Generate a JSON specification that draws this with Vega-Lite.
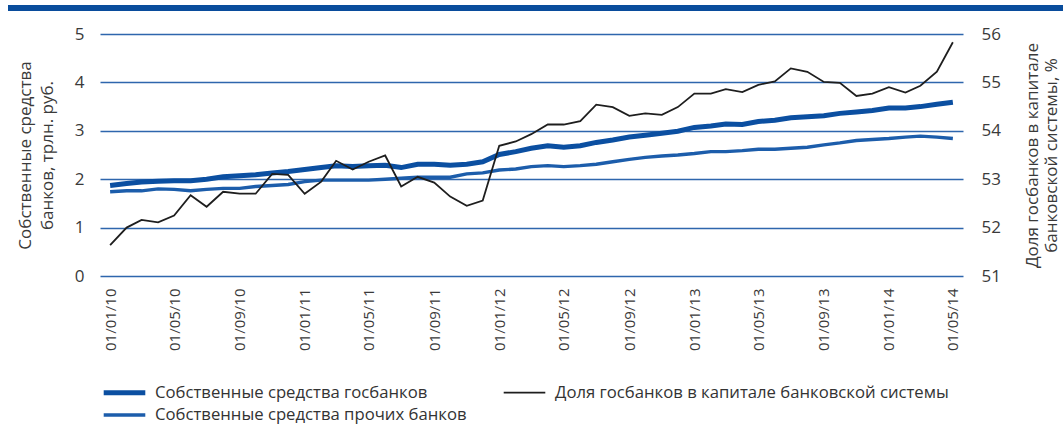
{
  "$schema": "https://vega.github.io/schema/vega-lite/v6.json",
  "autosize": {"type": "none"},
  "width": 863,
  "height": 242,
  "padding": {"left": 100, "top": 34, "right": 100, "bottom": 151},
  "background": "white",
  "config": {
    "view": {"stroke": null},
    "font": "Open Sans",
    "axis": {"labelFont": "Open Sans", "titleFont": "Open Sans", "labelColor": "#3a3a3a", "titleColor": "#3a3a3a", "titleFontWeight": "normal", "domain": false, "ticks": false},
    "legend": {"orient": "none", "legendX": 14, "legendY": 348, "columns": 2, "title": null, "symbolType": "M-2.6,0H2.6", "symbolSize": 256, "labelFont": "Open Sans", "labelFontSize": 16.7, "labelColor": "#333333", "labelOffset": 20, "columnPadding": 33, "rowPadding": 2, "labelLimit": 500}
  },
  "data": {"values": [
    {"d": "2010-01-01", "gos": 1.87, "oth": 1.74, "share": 51.64},
    {"d": "2010-02-01", "gos": 1.91, "oth": 1.76, "share": 52.00},
    {"d": "2010-03-01", "gos": 1.94, "oth": 1.76, "share": 52.16},
    {"d": "2010-04-01", "gos": 1.96, "oth": 1.80, "share": 52.11},
    {"d": "2010-05-01", "gos": 1.97, "oth": 1.79, "share": 52.25},
    {"d": "2010-06-01", "gos": 1.97, "oth": 1.76, "share": 52.67},
    {"d": "2010-07-01", "gos": 2.00, "oth": 1.79, "share": 52.43},
    {"d": "2010-08-01", "gos": 2.05, "oth": 1.81, "share": 52.74},
    {"d": "2010-09-01", "gos": 2.07, "oth": 1.81, "share": 52.70},
    {"d": "2010-10-01", "gos": 2.09, "oth": 1.85, "share": 52.70},
    {"d": "2010-11-01", "gos": 2.13, "oth": 1.87, "share": 53.11},
    {"d": "2010-12-01", "gos": 2.16, "oth": 1.89, "share": 53.09},
    {"d": "2011-01-01", "gos": 2.20, "oth": 1.95, "share": 52.70},
    {"d": "2011-02-01", "gos": 2.24, "oth": 1.98, "share": 52.95},
    {"d": "2011-03-01", "gos": 2.28, "oth": 1.98, "share": 53.38},
    {"d": "2011-04-01", "gos": 2.26, "oth": 1.98, "share": 53.20},
    {"d": "2011-05-01", "gos": 2.28, "oth": 1.98, "share": 53.36},
    {"d": "2011-06-01", "gos": 2.29, "oth": 2.00, "share": 53.49},
    {"d": "2011-07-01", "gos": 2.24, "oth": 2.02, "share": 52.85},
    {"d": "2011-08-01", "gos": 2.31, "oth": 2.04, "share": 53.05},
    {"d": "2011-09-01", "gos": 2.31, "oth": 2.04, "share": 52.93},
    {"d": "2011-10-01", "gos": 2.29, "oth": 2.04, "share": 52.64},
    {"d": "2011-11-01", "gos": 2.31, "oth": 2.11, "share": 52.45},
    {"d": "2011-12-01", "gos": 2.36, "oth": 2.13, "share": 52.56},
    {"d": "2012-01-01", "gos": 2.51, "oth": 2.19, "share": 53.69},
    {"d": "2012-02-01", "gos": 2.57, "oth": 2.21, "share": 53.78},
    {"d": "2012-03-01", "gos": 2.64, "oth": 2.26, "share": 53.93},
    {"d": "2012-04-01", "gos": 2.69, "oth": 2.28, "share": 54.13},
    {"d": "2012-05-01", "gos": 2.66, "oth": 2.26, "share": 54.13},
    {"d": "2012-06-01", "gos": 2.69, "oth": 2.28, "share": 54.20},
    {"d": "2012-07-01", "gos": 2.76, "oth": 2.31, "share": 54.54},
    {"d": "2012-08-01", "gos": 2.81, "oth": 2.36, "share": 54.49},
    {"d": "2012-09-01", "gos": 2.87, "oth": 2.41, "share": 54.31},
    {"d": "2012-10-01", "gos": 2.91, "oth": 2.45, "share": 54.36},
    {"d": "2012-11-01", "gos": 2.95, "oth": 2.48, "share": 54.33},
    {"d": "2012-12-01", "gos": 2.99, "oth": 2.50, "share": 54.49},
    {"d": "2013-01-01", "gos": 3.07, "oth": 2.53, "share": 54.77},
    {"d": "2013-02-01", "gos": 3.10, "oth": 2.57, "share": 54.77},
    {"d": "2013-03-01", "gos": 3.14, "oth": 2.57, "share": 54.86},
    {"d": "2013-04-01", "gos": 3.13, "oth": 2.59, "share": 54.80},
    {"d": "2013-05-01", "gos": 3.19, "oth": 2.62, "share": 54.95},
    {"d": "2013-06-01", "gos": 3.22, "oth": 2.62, "share": 55.02},
    {"d": "2013-07-01", "gos": 3.27, "oth": 2.64, "share": 55.29},
    {"d": "2013-08-01", "gos": 3.29, "oth": 2.66, "share": 55.22},
    {"d": "2013-09-01", "gos": 3.31, "oth": 2.71, "share": 55.01},
    {"d": "2013-10-01", "gos": 3.36, "oth": 2.75, "share": 54.99},
    {"d": "2013-11-01", "gos": 3.39, "oth": 2.80, "share": 54.72},
    {"d": "2013-12-01", "gos": 3.42, "oth": 2.82, "share": 54.77},
    {"d": "2014-01-01", "gos": 3.47, "oth": 2.84, "share": 54.90},
    {"d": "2014-02-01", "gos": 3.47, "oth": 2.87, "share": 54.79},
    {"d": "2014-03-01", "gos": 3.50, "oth": 2.89, "share": 54.93},
    {"d": "2014-04-01", "gos": 3.55, "oth": 2.87, "share": 55.22},
    {"d": "2014-05-01", "gos": 3.59, "oth": 2.84, "share": 55.83}
  ]},
  "encoding": {
    "x": {
      "field": "d", "type": "temporal",
      "scale": {"type": "utc", "domain": [{"year": 2009, "month": 12, "date": 13, "utc": true}, {"year": 2014, "month": 5, "date": 20, "utc": true}]},
      "axis": {"title": null, "labelExpr": "utcFormat(datum.value, '%d/%m/%y')", "tickCount": {"interval": "month", "step": 4}, "labelAngle": -90, "labelFontSize": 15, "labelPadding": 12, "grid": false, "labelFlush": false, "labelOverlap": false}
    }
  },
  "layer": [
    {
      "encoding": {
        "y": {"type": "quantitative", "scale": {"domain": [0, 5]},
          "axis": {"title": ["Собственные средства", "банков, трлн. руб."], "titleFontSize": 17, "titleLineHeight": 22, "titlePadding": 18, "labelFontSize": 17, "labelPadding": 16, "values": [0, 1, 2, 3, 4, 5], "grid": true, "gridColor": "#2e66ad", "gridWidth": 1.5, "gridOpacity": 1}}
      },
      "layer": [
        {"mark": {"type": "rule", "clip": false, "color": "#0a4d9c", "strokeWidth": 5},
         "encoding": {"y": {"datum": 5.53}, "x": {"datum": {"year": 2009, "month": 6, "date": 24, "utc": true}}, "x2": {"datum": {"year": 2014, "month": 11, "date": 25, "utc": true}}}},
        {"mark": {"type": "line"}, "encoding": {"y": {"field": "oth"},
          "color": {"datum": "Собственные средства прочих банков", "scale": {"domain": ["Собственные средства госбанков", "Собственные средства прочих банков", "Доля госбанков в капитале банковской системы"], "range": ["#0b4fa1", "#1c5dab", "#1e1e1e"]}},
          "strokeWidth": {"datum": "Собственные средства прочих банков", "scale": {"domain": ["Собственные средства госбанков", "Собственные средства прочих банков", "Доля госбанков в капитале банковской системы"], "range": [5, 1.8, 1.4]}}}},
        {"mark": {"type": "line"}, "encoding": {"y": {"field": "gos"}, "color": {"datum": "Собственные средства госбанков"}, "strokeWidth": {"datum": "Собственные средства госбанков"}}}
      ]
    },
    {
      "mark": {"type": "line"},
      "encoding": {
        "y": {"field": "share", "type": "quantitative", "scale": {"domain": [51, 56]},
          "axis": {"orient": "right", "title": ["Доля госбанков в капитале", "банковской системы, %"], "titleAngle": 270, "titleBaseline": "top", "titleFontSize": 17, "titleLineHeight": 19, "titlePadding": 5, "labelFontSize": 17, "labelPadding": 18, "values": [51, 52, 53, 54, 55, 56], "grid": false}},
        "color": {"datum": "Доля госбанков в капитале банковской системы"},
        "strokeWidth": {"datum": "Доля госбанков в капитале банковской системы"}
      }
    }
  ],
  "resolve": {"scale": {"y": "independent"}}
}
